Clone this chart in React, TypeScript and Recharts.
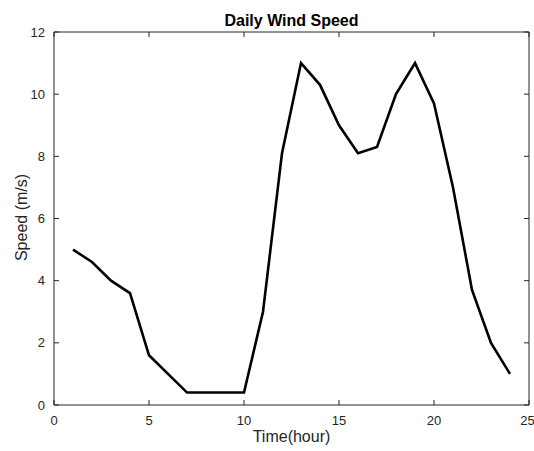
import { LineChart, Line, XAxis, YAxis, Label } from "recharts";

const HOURS = [1, 2, 3, 4, 5, 6, 7, 8, 9, 10, 11, 12, 13, 14, 15, 16, 17, 18, 19, 20, 21, 22, 23, 24];
const SPEED = [5.0, 4.6, 4.0, 3.6, 1.6, 1.0, 0.4, 0.4, 0.4, 0.4, 3.0, 8.1, 11.0, 10.3, 9.0, 8.1, 8.3, 10.0, 11.0, 9.7, 7.0, 3.7, 2.0, 1.0];
const X_TICKS = [0, 5, 10, 15, 20, 25];
const Y_TICKS = [0, 2, 4, 6, 8, 10, 12];

const AXIS = "#262626";
const tickStyle = { fontSize: 13, fill: AXIS };
const blank = () => "";

// label renderers, placed from the axis viewBox recharts hands over
const titleLabel = ({ viewBox }: any) => (
  <text x={viewBox.x + viewBox.width / 2} y={viewBox.y - 5} textAnchor="middle" fontSize={16} fontWeight="bold" fill="#000">
    Daily Wind Speed
  </text>
);

const xLabel = ({ viewBox }: any) => (
  <text x={viewBox.x + viewBox.width / 2} y={viewBox.y + viewBox.height - 9} textAnchor="middle" fontSize={16} fill={AXIS}>
    Time(hour)
  </text>
);

const yLabel = ({ viewBox }: any) => {
  const cx = viewBox.x + 7;
  const cy = viewBox.y + viewBox.height / 2 - 1;
  return (
    <text x={cx} y={cy} transform={`rotate(-90 ${cx} ${cy})`} textAnchor="middle" dominantBaseline="central" fontSize={16} fill={AXIS}>
      Speed (m/s)
    </text>
  );
};

export default function App() {
  // "box" only exists so the top/right axes (the MATLAB frame) get drawn
  const data = HOURS.map((h, i) => ({ hour: h, speed: SPEED[i], box: SPEED[i] }));

  return (
    <div style={{ position: "absolute", left: 0, top: 0, fontFamily: "'Liberation Sans', Arial, sans-serif" }}>
      <style>{`.recharts-cartesian-axis-tick-value { fill: ${AXIS}; }`}</style>
      <LineChart width={534} height={451} data={data} margin={{ top: 31, right: 4, left: 14, bottom: 0 }}>
        <XAxis
          xAxisId="b"
          dataKey="hour"
          type="number"
          domain={[0, 25]}
          ticks={X_TICKS}
          height={46}
          tickSize={-5}
          tickMargin={16}
          tick={tickStyle}
          stroke={AXIS}
        >
          <Label content={xLabel} />
        </XAxis>
        <XAxis
          xAxisId="t"
          orientation="top"
          dataKey="hour"
          type="number"
          domain={[0, 25]}
          ticks={X_TICKS}
          height={1}
          tickSize={-5}
          tickFormatter={blank}
          stroke={AXIS}
        >
          <Label content={titleLabel} />
        </XAxis>
        <YAxis
          yAxisId="l"
          type="number"
          domain={[0, 12]}
          ticks={Y_TICKS}
          width={40}
          tickSize={-5}
          tickMargin={14}
          tick={tickStyle}
          stroke={AXIS}
        >
          <Label content={yLabel} />
        </YAxis>
        <YAxis
          yAxisId="r"
          orientation="right"
          type="number"
          domain={[0, 12]}
          ticks={Y_TICKS}
          width={1}
          tickSize={-5}
          tickFormatter={blank}
          stroke={AXIS}
        />
        <Line
          xAxisId="t"
          yAxisId="r"
          type="linear"
          dataKey="box"
          stroke="none"
          dot={false}
          activeDot={false}
          isAnimationActive={false}
        />
        <Line
          xAxisId="b"
          yAxisId="l"
          type="linear"
          dataKey="speed"
          stroke="#000"
          strokeWidth={2.6}
          dot={false}
          activeDot={false}
          isAnimationActive={false}
        />
      </LineChart>
    </div>
  );
}
